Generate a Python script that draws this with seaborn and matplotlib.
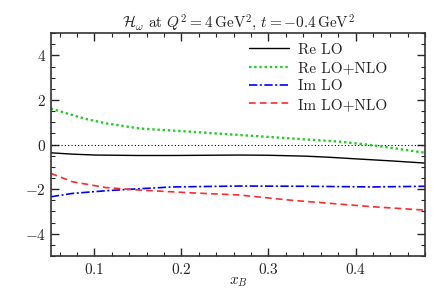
import numpy as np
import pandas as pd
import seaborn as sns
import matplotlib
matplotlib.use("Agg")
import matplotlib.pyplot as plt
from matplotlib.ticker import MultipleLocator

# values
x_re_lo = [0.05, 0.075, 0.101, 0.15, 0.19, 0.23, 0.266, 0.30, 0.343, 0.37, 0.40, 0.44, 0.48]
re_lo = [-0.37, -0.43, -0.47, -0.49, -0.49, -0.48, -0.47, -0.48, -0.52, -0.57, -0.64, -0.73, -0.83]

x_re_nlo = [0.05, 0.07, 0.09, 0.1135, 0.152, 0.209, 0.266, 0.324, 0.382, 0.413, 0.44, 0.48]
re_nlo = [1.62, 1.38, 1.15, 0.95, 0.72, 0.58, 0.43, 0.28, 0.13, 0.0, -0.14, -0.37]

x_im_lo = [0.05, 0.075, 0.1135, 0.152, 0.19, 0.266, 0.343, 0.42, 0.48]
im_lo = [-2.34, -2.19, -2.07, -1.98, -1.90, -1.86, -1.87, -1.90, -1.87]

x_im_nlo = [0.05, 0.075, 0.1135, 0.152, 0.209, 0.266, 0.324, 0.382, 0.42, 0.48]
im_nlo = [-1.29, -1.67, -1.93, -2.04, -2.16, -2.26, -2.49, -2.67, -2.79, -2.94]

sns.set_style("ticks")
plt.rcParams["font.family"] = ["cmr10", "DejaVu Serif"]
plt.rcParams["mathtext.fontset"] = "cm"
plt.rcParams["axes.formatter.use_mathtext"] = True
plt.rcParams["font.size"] = 11

fig = plt.figure(figsize=(4.42, 2.9), dpi=100)
ax = fig.add_axes([0.115, 0.117, 0.847, 0.769])

ax.axhline(0, color="black", lw=0.8, ls=(0, (1, 2)))

sns.lineplot(x=x_re_lo, y=re_lo, ax=ax, color="black", lw=1.0, label="Re LO")
sns.lineplot(x=x_re_nlo, y=re_nlo, ax=ax, color="#22cc22", lw=1.7,
             ls=(0, (1, 1.2)), label="Re LO+NLO")
sns.lineplot(x=x_im_lo, y=im_lo, ax=ax, color="blue", lw=1.2,
             ls=(0, (5, 1.5, 1.2, 1.5)), label="Im LO")
sns.lineplot(x=x_im_nlo, y=im_nlo, ax=ax, color="#ff2a2a", lw=1.2,
             ls=(0, (4, 2.5)), label="Im LO+NLO")

ax.set_xlim(0.05, 0.48)
ax.set_ylim(-5, 5)
ax.xaxis.set_major_locator(MultipleLocator(0.1))
ax.xaxis.set_minor_locator(MultipleLocator(0.02))
ax.yaxis.set_major_locator(MultipleLocator(2))
ax.yaxis.set_minor_locator(MultipleLocator(0.5))
ax.tick_params(which="both", direction="in", top=True, right=True, labelsize=11)
ax.tick_params(which="major", length=6, width=1)
ax.tick_params(which="minor", length=3, width=0.8)
ax.tick_params(axis="x", pad=4)
for s in ax.spines.values():
    s.set_linewidth(1.2)
    s.set_color("#333333")

ax.set_xlabel(r"$x_B$", fontsize=11, labelpad=-1)
ax.set_ylabel("")
ax.set_title(r"$\mathcal{H}_\omega$ at $Q^2=4\,\mathrm{GeV}^2$, $t=-0.4\,\mathrm{GeV}^2$",
             fontsize=11, pad=4)

ax.legend(loc="upper left", bbox_to_anchor=(0.53, 0.955), frameon=False, fontsize=11,
          handlelength=2.6, labelspacing=0.3, borderaxespad=0, borderpad=0,
          handletextpad=0.6)

fig.savefig("out.png", dpi=100)
